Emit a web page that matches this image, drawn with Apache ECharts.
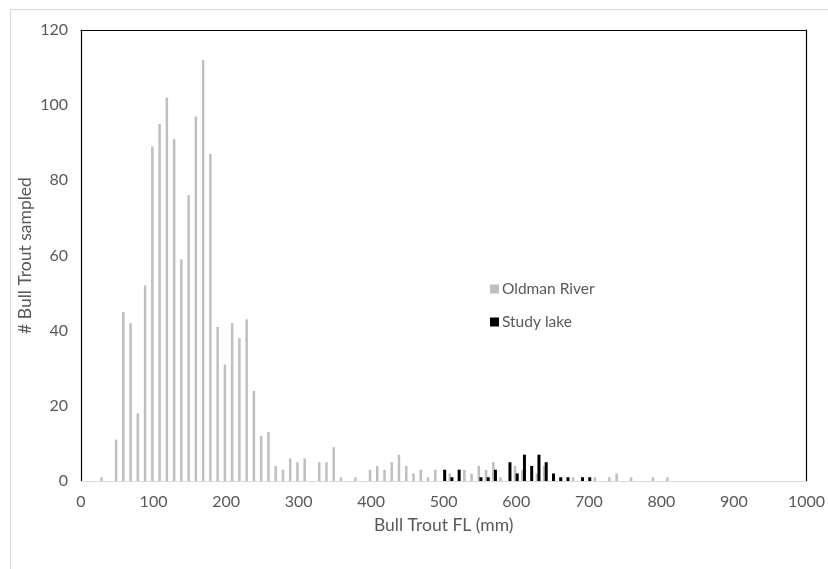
<!DOCTYPE html>
<html>
<head>
<meta charset="utf-8">
<script src="https://cdn.jsdelivr.net/npm/echarts@6/dist/echarts.min.js"></script>
<style>
  html, body { margin: 0; padding: 0; background: #ffffff; }
  #wrap { position: relative; width: 828px; height: 569px; overflow: hidden; }
  #frame { position: absolute; left: 10px; top: 9px; width: 900px; height: 700px; border: 1px solid #d9d9d9; }
  #chart { position: absolute; left: 0; top: 0; width: 828px; height: 569px; }
</style>
</head>
<body>
<div id="wrap">
  <div id="frame"></div>
  <div id="chart"></div>
</div>
<script>
// Fork length bins (mm) and counts
const oldmanBins   = [30, 50, 60, 70, 80, 90, 100, 110, 120, 130, 140, 150, 160, 170, 180, 190, 200, 210, 220, 230, 240, 250, 260, 270, 280, 290, 300, 310, 330, 340, 350, 360, 380, 400, 410, 420, 430, 440, 450, 460, 470, 480, 490, 510, 530, 540, 550, 560, 570, 580, 600, 610, 630, 640, 680, 710, 730, 740, 760, 790, 810];
const oldmanCounts = [1, 11, 45, 42, 18, 52, 89, 95, 102, 91, 59, 76, 97, 112, 87, 41, 31, 42, 38, 43, 24, 12, 13, 4, 3, 6, 5, 6, 5, 5, 9, 1, 1, 3, 4, 3, 5, 7, 4, 2, 3, 1, 3, 2, 3, 2, 4, 3, 5, 1, 4, 3, 2, 4, 1, 1, 1, 2, 1, 1, 1];
const lakeBins   = [500, 510, 520, 550, 560, 570, 590, 600, 610, 620, 630, 640, 650, 660, 670, 690, 700];
const lakeCounts = [3, 1, 3, 1, 1, 3, 5, 2, 7, 4, 7, 5, 2, 1, 1, 1, 1];
const xTicks = [0, 1000, 100];
const yTicks = [0, 120, 20];

const oldmanData = oldmanBins.map((b, i) => [b, oldmanCounts[i]]);
const lakeData = lakeBins.map((b, i) => [b, lakeCounts[i]]);

const FONT = 'Lato, "Open Sans", sans-serif';
const chart = echarts.init(document.getElementById('chart'));
chart.setOption({
  animation: false,
  textStyle: { fontFamily: FONT },
  grid: { left: 81, right: 14, top: 30, bottom: 88, containLabel: false },
  legend: {
    orient: 'vertical',
    left: 485, top: 276,
    itemWidth: 9, itemHeight: 9, itemGap: 17,
    icon: 'rect',
    textStyle: { fontFamily: FONT, fontSize: 15.5, color: '#595959', padding: [0, 0, 0, -2] },
    data: ['Oldman River', 'Study lake']
  },
  xAxis: [{
    type: 'value', min: xTicks[0], max: xTicks[1], interval: xTicks[2],
    name: 'Bull Trout FL (mm)', nameLocation: 'middle', nameGap: 35, nameMoveOverlap: false,
    nameTextStyle: { fontFamily: FONT, fontSize: 17.5, color: '#595959' },
    axisLine: { show: true, lineStyle: { color: '#d9d9d9', width: 1 } },
    axisTick: { show: false },
    axisLabel: { fontFamily: FONT, fontSize: 16, color: '#595959', margin: 13, formatter: v => String(v) },
    splitLine: { show: false }
  }, {
    type: 'value', position: 'top', min: xTicks[0], max: xTicks[1],
    axisLine: { show: true, onZero: false, lineStyle: { color: '#000000', width: 1.2 } },
    axisTick: { show: false }, axisLabel: { show: false }, splitLine: { show: false }
  }],
  yAxis: [{
    type: 'value', min: yTicks[0], max: yTicks[1], interval: yTicks[2],
    name: '# Bull Trout sampled', nameLocation: 'middle', nameGap: 47, nameRotate: 90, nameMoveOverlap: false,
    nameTextStyle: { fontFamily: FONT, fontSize: 17.5, color: '#595959' },
    axisLine: { show: true, onZero: false, lineStyle: { color: '#000000', width: 1.2 } },
    axisTick: { show: false },
    axisLabel: { fontFamily: FONT, fontSize: 16, color: '#595959', margin: 13, formatter: v => String(v) },
    splitLine: { show: false }
  }, {
    type: 'value', position: 'right', min: yTicks[0], max: yTicks[1],
    axisLine: { show: true, onZero: false, lineStyle: { color: '#000000', width: 1.2 } },
    axisTick: { show: false }, axisLabel: { show: false }, splitLine: { show: false }
  }],
  series: [{
    name: 'Oldman River', type: 'bar', xAxisIndex: 0, yAxisIndex: 0,
    data: oldmanData, barWidth: 2.5, barGap: '-25%',
    itemStyle: { color: '#bfbfbf' }
  }, {
    name: 'Study lake', type: 'bar', xAxisIndex: 0, yAxisIndex: 0,
    data: lakeData, barWidth: 3, barGap: '-25%',
    itemStyle: { color: '#000000' }
  }]
});
</script>
</body>
</html>
